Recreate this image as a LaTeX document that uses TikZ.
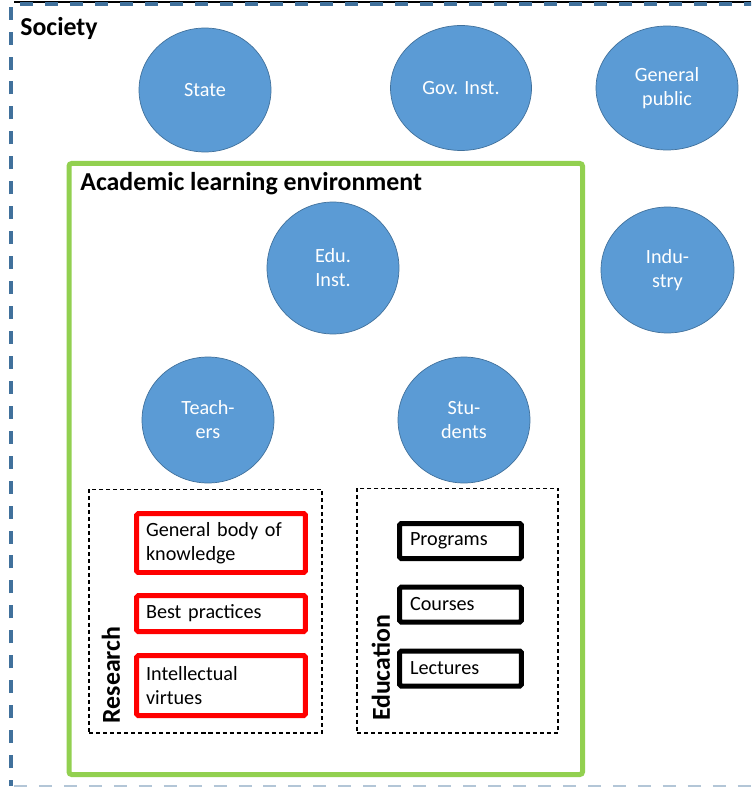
\documentclass[tikz,border=0pt]{standalone}
\usepackage{fontspec}
\setmainfont{Carlito}
\usetikzlibrary{shapes.geometric}
\definecolor{actorblue}{HTML}{5B9BD5}
\definecolor{actoredge}{HTML}{41719C}
\definecolor{envgreen}{HTML}{92D050}
\begin{document}
\begin{tikzpicture}[x=0.02cm, y=-0.02cm,
    actor/.style={ellipse, draw=actoredge, fill=actorblue, text=white, inner sep=0pt,
        align=center, font=\fontsize{11.5}{13.7}\selectfont},
    topic/.style={draw=red, line width=0.1cm, rounded corners=1pt, inner xsep=0.19cm,
        minimum width=3.38cm, text width=3.0cm, align=left,
        font=\fontsize{11.5}{13.7}\selectfont},
    unit/.style={draw=black, line width=0.1cm, rounded corners=1pt, inner xsep=0.21cm,
        minimum width=2.44cm, minimum height=0.7cm, text width=2.02cm, align=left,
        font=\fontsize{11.5}{13.7}\selectfont},
    group/.style={draw, dashed, dash pattern=on 2.3pt off 1.7pt, line width=0.6pt, inner sep=0pt},
    heading/.style={inner sep=0pt, font=\fontsize{14.7}{17}\selectfont\bfseries}]
    \useasboundingbox (0,0) rectangle (751,787);
    \clip (0,0) rectangle (751,787);

    % Society frame
    \draw[black, line width=0.8pt] (14,2) -- (751,2);
    \draw[actoredge, line width=2pt, dash pattern=on 7.4pt off 6.8pt, dash phase=4pt]
        (11,786) -- (11,4) -- (770,4);
    \draw[actoredge!40, line width=2pt, dash pattern=on 7.4pt off 6.8pt] (14,786.5) -- (751,786.5);
    \node[heading, anchor=base west] (society) at (20,36) {Society};

    % Actors in society
    \node[actor, minimum width=2.64cm, minimum height=2.48cm] (state) at (205,90) {State};
    \node[actor, minimum width=2.82cm, minimum height=2.5cm] (govinst) at (461,88) {Gov. Inst.};
    \node[actor, minimum width=2.84cm, minimum height=2.48cm] (public) at (667,88) {General\\public};
    \node[actor, minimum width=2.66cm, minimum height=2.52cm] (industry) at (667.5,270) {Indu-\\stry};

    % Academic learning environment
    \draw[envgreen, line width=0.1cm, rounded corners=1.5pt] (69,163.5) rectangle (582.5,774.5);
    \node[heading, anchor=base west] (academic) at (80,191) {Academic learning environment};

    \node[actor, minimum width=2.64cm, minimum height=2.64cm] (eduinst) at (333,268) {Edu.\\Inst.};
    \node[actor, minimum width=2.64cm, minimum height=2.52cm] (teachers) at (208,420) {Teach-\\ers};
    \node[actor, minimum width=2.64cm, minimum height=2.52cm] (students) at (464,420) {Stu-\\dents};

    % Research
    \node[group, minimum width=4.66cm, minimum height=4.88cm] (research) at (205.5,611) {};
    \node[heading, rotate=90] (researchlabel) at (111,675) {Research};
    \node[topic, minimum height=1.18cm] (knowledge) at (221,543) {General body of\\knowledge};
    \node[topic, minimum height=0.72cm] (practices) at (221,613.5) {Best practices};
    \node[topic, minimum height=1.2cm] (virtues) at (221,685.5) {Intellectual\\virtues};

    % Education
    \node[group, minimum width=4.02cm, minimum height=4.9cm] (education) at (457.5,610.5) {};
    \node[heading, rotate=90] (educationlabel) at (381,668) {Education};
    \node[unit] (programs) at (460.5,541) {Programs};
    \node[unit] (courses) at (460.5,604.5) {Courses};
    \node[unit] (lectures) at (460.5,668.5) {Lectures};
\end{tikzpicture}
\end{document}
